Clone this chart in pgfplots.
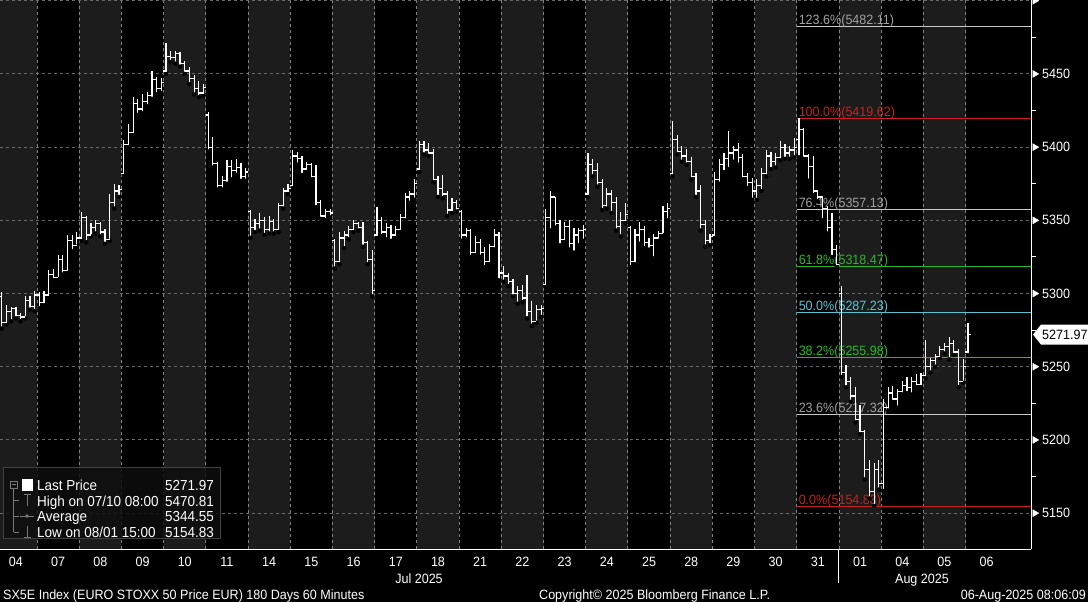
\documentclass[border=0pt]{standalone}
\usepackage{fontspec}
\setmainfont{Liberation Sans}[FakeStretch=0.93]
\usepackage{pgfplots}
\usepackage{pgfplotstable}
\pgfplotsset{compat=1.18}
\definecolor{bandgray}{RGB}{28,28,28}
\definecolor{gridgray}{RGB}{105,105,105}
\definecolor{vgridgray}{RGB}{130,130,130}
\definecolor{fibgray}{RGB}{200,200,200}
\definecolor{fibgraytxt}{RGB}{160,160,160}
\definecolor{fibred}{RGB}{200,32,32}
\definecolor{fibgreen}{RGB}{40,185,40}
\definecolor{fibcyan}{RGB}{90,195,210}
\definecolor{legfill}{RGB}{14,14,14}
\definecolor{legborder}{RGB}{64,64,64}
\definecolor{treegray}{RGB}{120,120,120}
\newcommand\fs{\fontsize{13.5}{15}\selectfont}
\newcommand\fl{\fontsize{14.5}{16}\selectfont}
\pgfdeclareplotmark{openL}{\pgfpathmoveto{\pgfqpoint{-2.6pt}{0pt}}\pgfpathlineto{\pgfqpoint{0pt}{0pt}}\pgfusepathqstroke}
\pgfdeclareplotmark{closeR}{\pgfpathmoveto{\pgfqpoint{0pt}{0pt}}\pgfpathlineto{\pgfqpoint{2.6pt}{0pt}}\pgfusepathqstroke}
\pgfplotstableread{
d s o h l c
0 0 5288 5296 5282 5290
0 1 5298 5301 5276 5280
0 2 5280 5292 5279 5288
0 3 5288 5291 5281 5290
0 4 5290 5291 5283 5285
0 5 5285 5287 5281 5284
0 6 5284 5298 5283 5295
0 7 5295 5298 5289 5291
0 8 5291 5302 5288 5299
1 0 5299 5301 5290 5294
1 1 5294 5302 5292 5299
1 2 5299 5316 5297 5313
1 3 5313 5317 5309 5311
1 4 5311 5326 5310 5323
1 5 5323 5326 5313 5316
1 6 5316 5340 5314 5336
1 7 5336 5340 5329 5333
1 8 5333 5342 5332 5338
2 0 5338 5356 5336 5352
2 1 5352 5353 5335 5340
2 2 5340 5348 5339 5345
2 3 5345 5350 5341 5348
2 4 5348 5349 5339 5342
2 5 5342 5344 5334 5337
2 6 5337 5368 5336 5362
2 7 5362 5375 5358 5370
2 8 5370 5374 5366 5371
3 0 5382 5405 5381 5402
3 1 5402 5416 5400 5410
3 2 5410 5434 5408 5430
3 3 5430 5433 5422 5426
3 4 5426 5436 5423 5431
3 5 5431 5438 5428 5435
3 6 5435 5452 5433 5446
3 7 5446 5448 5436 5440
3 8 5440 5447 5437 5444
4 0 5452 5470.81 5450 5462
4 1 5462 5466 5458 5461
4 2 5461 5466 5457 5464
4 3 5464 5465 5455 5457
4 4 5457 5459 5450 5452
4 5 5452 5455 5443 5447
4 6 5447 5449 5436 5440
4 7 5440 5445 5434 5437
4 8 5437 5443 5435 5441
5 0 5422 5424 5397 5400
5 1 5400 5407 5386 5389
5 2 5389 5390 5371 5374
5 3 5374 5380 5371 5377
5 4 5377 5391 5375 5387
5 5 5387 5391 5378 5384
5 6 5384 5392 5381 5386
5 7 5386 5389 5377 5380
5 8 5380 5386 5377 5383
6 0 5356 5357 5338 5345
6 1 5345 5351 5342 5348
6 2 5348 5355 5343 5350
6 3 5350 5352 5340 5344
6 4 5344 5353 5341 5349
6 5 5349 5351 5341 5344
6 6 5344 5362 5342 5360
6 7 5360 5372 5358 5370
6 8 5370 5375 5368 5372
7 0 5374 5398 5372 5394
7 1 5394 5397 5388 5392
7 2 5392 5394 5381 5385
7 3 5385 5390 5383 5388
7 4 5388 5389 5378 5380
7 5 5380 5388 5359 5362
7 6 5362 5364 5351 5353
7 7 5353 5358 5350 5356
7 8 5356 5358 5352 5355
8 0 5336 5337 5317 5322
8 1 5322 5342 5320 5338
8 2 5338 5343 5331 5340
8 3 5340 5346 5337 5344
8 4 5344 5350 5342 5348
8 5 5348 5349 5343 5345
8 6 5345 5349 5332 5335
8 7 5335 5336 5320 5323
8 8 5323 5330 5298 5302
9 0 5340 5359 5338 5350
9 1 5350 5352 5339 5342
9 2 5342 5348 5337 5345
9 3 5345 5347 5336 5340
9 4 5340 5346 5338 5344
9 5 5344 5354 5342 5352
9 6 5352 5369 5350 5366
9 7 5366 5370 5362 5368
9 8 5368 5378 5364 5375
10 0 5385 5404 5383 5402
10 1 5402 5404 5395 5398
10 2 5398 5403 5394 5396
10 3 5396 5399 5376 5378
10 4 5378 5380 5366 5372
10 5 5372 5381 5365 5368
10 6 5368 5370 5353 5357
10 7 5357 5365 5355 5362
10 8 5362 5364 5356 5358
11 0 5356 5357 5336 5340
11 1 5340 5345 5337 5343
11 2 5343 5344 5325 5328
11 3 5328 5339 5327 5335
11 4 5335 5337 5325 5328
11 5 5328 5332 5318 5322
11 6 5322 5334 5320 5332
11 7 5332 5344 5330 5340
11 8 5340 5342 5309 5314
12 0 5314 5319 5308 5312
12 1 5312 5314 5305 5308
12 2 5308 5310 5298 5300
12 3 5300 5305 5293 5302
12 4 5302 5306 5294 5297
12 5 5297 5313 5283 5288
12 6 5288 5295 5278 5281
12 7 5281 5292 5280 5289
12 8 5289 5292 5284 5290
13 0 5306 5358 5305 5352
13 1 5352 5370 5343 5366
13 2 5366 5366 5345 5348
13 3 5348 5350 5333 5337
13 4 5337 5349 5335 5346
13 5 5346 5350 5330 5334
13 6 5334 5345 5328 5340
13 7 5340 5345 5333 5343
13 8 5343 5347 5336 5344
14 0 5368 5396 5366 5388
14 1 5388 5392 5380 5384
14 2 5384 5389 5373 5376
14 3 5376 5378 5357 5360
14 4 5360 5372 5358 5368
14 5 5368 5371 5355 5362
14 6 5362 5366 5343 5346
14 7 5346 5356 5339 5350
14 8 5350 5362 5348 5354
15 0 5345 5346 5318 5322
15 1 5322 5344 5320 5340
15 2 5340 5349 5334 5344
15 3 5344 5346 5331 5335
15 4 5335 5338 5330 5333
15 5 5333 5341 5324 5338
15 6 5338 5343 5336 5341
15 7 5341 5360 5340 5356
15 8 5356 5362 5350 5358
16 0 5382 5418 5380 5405
16 1 5405 5408 5395 5397
16 2 5397 5401 5390 5394
16 3 5394 5399 5388 5390
16 4 5390 5393 5378 5380
16 5 5380 5382 5366 5370
16 6 5370 5374 5343 5347
16 7 5347 5350 5332 5336
16 8 5336 5341 5333 5339
17 0 5340 5383 5338 5378
17 1 5378 5392 5375 5388
17 2 5388 5396 5383 5392
17 3 5392 5411 5385 5396
17 4 5396 5401 5390 5398
17 5 5398 5403 5388 5393
17 6 5393 5395 5378 5380
17 7 5380 5382 5372 5376
17 8 5376 5379 5364 5370
18 0 5370 5378 5364 5374
18 1 5374 5386 5370 5382
18 2 5382 5398 5380 5394
18 3 5394 5397 5385 5390
18 4 5390 5396 5386 5393
18 5 5393 5404 5391 5400
18 6 5400 5402 5392 5396
18 7 5396 5401 5392 5398
18 8 5398 5406 5393 5400
19 0 5405 5419.62 5393 5412
19 1 5412 5413 5392 5394
19 2 5394 5395 5377 5387
19 3 5387 5394 5367 5370
19 4 5370 5371 5363 5366
19 5 5366 5366 5350 5358
19 6 5358 5360 5341 5345
19 7 5345 5355 5325 5330
19 8 5330 5333 5318 5320
20 0 5300 5305 5243 5246
20 1 5246 5251 5236 5240
20 2 5240 5243 5226 5230
20 3 5230 5236 5212 5214
20 4 5214 5224 5204 5206
20 5 5206 5207 5173 5180
20 6 5180 5186 5160 5165
20 7 5165 5184 5154.83 5180
20 8 5180 5186 5166 5170
21 0 5170 5228 5165 5222
21 1 5222 5236 5220 5232
21 2 5232 5237 5226 5228
21 3 5228 5235 5222 5233
21 4 5233 5240 5231 5237
21 5 5237 5243 5232 5236
21 6 5236 5243 5231 5240
21 7 5240 5245 5236 5238
21 8 5238 5246 5236 5244
22 0 5244 5268 5242 5250
22 1 5250 5256 5246 5254
22 2 5254 5259 5250 5257
22 3 5257 5264 5256 5262
22 4 5262 5266 5259 5264
22 5 5264 5270 5255 5266
22 6 5266 5268 5258 5260
22 7 5260 5262 5236 5240
22 8 5240 5255 5239 5250
23 0 5260 5280 5258 5271.97
}\ohlc
\begin{document}
\begin{tikzpicture}
\path[use as bounding box] (0pt,0pt) rectangle (1088pt,-602pt);
\fill[black] (0pt,0pt) rectangle (1088pt,-602pt);
\begin{axis}[
  at={(0pt,0pt)}, anchor=north west,
  scale only axis, width=1031pt, height=549pt,
  xmin=-0.377, xmax=24.05, ymin=5125.5, ymax=5500.5,
  clip=false,
  axis x line*=bottom, axis y line*=right,
  axis line style={white, line width=1pt, -},
  xtick={0,...,23},
  xticklabels={04,07,08,09,10,11,14,15,16,17,18,21,22,23,24,25,28,29,30,31,01,04,05,06},
  x tick style={draw=none},
  xticklabel style={text=white, font=\fs, anchor=base, inner sep=0pt, yshift=-17pt},
  ytick={5150,5200,5250,5300,5350,5400,5450},
  yticklabels={5150,5200,5250,5300,5350,5400,5450},
  minor ytick={5175,5225,5275,5325,5375,5425,5475},
  tick align=outside,
  major tick length=0pt, minor tick length=5pt,
  y tick style={white, line width=1pt},
  yticklabel style={text=white, font=\fs, anchor=west, inner sep=0pt, xshift=11pt},
]
% day bands
\fill[bandgray] (axis cs:-0.377,5125.5) rectangle (axis cs:0.5,5500.5);
\fill[bandgray] (axis cs:1.5,5125.5) rectangle (axis cs:2.5,5500.5);
\fill[bandgray] (axis cs:3.5,5125.5) rectangle (axis cs:4.5,5500.5);
\fill[bandgray] (axis cs:5.5,5125.5) rectangle (axis cs:6.5,5500.5);
\fill[bandgray] (axis cs:7.5,5125.5) rectangle (axis cs:8.5,5500.5);
\fill[bandgray] (axis cs:9.5,5125.5) rectangle (axis cs:10.5,5500.5);
\fill[bandgray] (axis cs:11.5,5125.5) rectangle (axis cs:12.5,5500.5);
\fill[bandgray] (axis cs:13.5,5125.5) rectangle (axis cs:14.5,5500.5);
\fill[bandgray] (axis cs:15.5,5125.5) rectangle (axis cs:16.5,5500.5);
\fill[bandgray] (axis cs:17.5,5125.5) rectangle (axis cs:18.5,5500.5);
\fill[bandgray] (axis cs:19.5,5125.5) rectangle (axis cs:20.5,5500.5);
\fill[bandgray] (axis cs:21.5,5125.5) rectangle (axis cs:22.5,5500.5);
% grid
\pgfplotsinvokeforeach{0.5,1.5,...,22.5}{
  \draw[vgridgray, line width=0.9pt, dash pattern=on 3pt off 3pt] (axis cs:#1,5125.5) -- (axis cs:#1,5500.5);
}
\pgfplotsinvokeforeach{5150,5200,5250,5300,5350,5400,5450,5500}{
  \draw[gridgray, line width=0.9pt, dash pattern=on 3pt off 3pt] (axis cs:-0.377,#1) -- (axis cs:24.05,#1);
}
% fibonacci levels
\addplot[fibgray, line width=1pt] coordinates {(18.5,5482.11) (24.05,5482.11)}
  node[pos=0, anchor=base west, text=fibgraytxt, font=\fs, inner sep=0pt, xshift=1.5pt, yshift=2pt] {123.6\%(5482.11)};
\addplot[fibred, line width=1pt] coordinates {(18.5,5419.62) (24.05,5419.62)}
  node[pos=0, anchor=base west, text=fibred, font=\fs, inner sep=0pt, xshift=1.5pt, yshift=2pt] {100.0\%(5419.62)};
\addplot[fibgray, line width=1pt] coordinates {(18.5,5357.13) (24.05,5357.13)}
  node[pos=0, anchor=base west, text=fibgraytxt, font=\fs, inner sep=0pt, xshift=1.5pt, yshift=2pt] {76.4\%(5357.13)};
\addplot[fibgreen, line width=1pt] coordinates {(18.5,5318.47) (24.05,5318.47)}
  node[pos=0, anchor=base west, text=fibgreen, font=\fs, inner sep=0pt, xshift=1.5pt, yshift=2pt] {61.8\%(5318.47)};
\addplot[fibcyan, line width=1pt] coordinates {(18.5,5287.23) (24.05,5287.23)}
  node[pos=0, anchor=base west, text=fibcyan, font=\fs, inner sep=0pt, xshift=1.5pt, yshift=2pt] {50.0\%(5287.23)};
\addplot[fibgreen, line width=1pt] coordinates {(18.5,5255.98) (24.05,5255.98)}
  node[pos=0, anchor=base west, text=fibgreen, font=\fs, inner sep=0pt, xshift=1.5pt, yshift=2pt] {38.2\%(5255.98)};
\addplot[fibgray, line width=1pt] coordinates {(18.5,5217.32) (24.05,5217.32)}
  node[pos=0, anchor=base west, text=fibgraytxt, font=\fs, inner sep=0pt, xshift=1.5pt, yshift=2pt] {23.6\%(5217.32)};
\addplot[fibred, line width=1pt] coordinates {(18.5,5154.83) (24.05,5154.83)}
  node[pos=0, anchor=base west, text=fibred, font=\fs, inner sep=0pt, xshift=1.5pt, yshift=2pt] {0.0\%(5154.83)};
% OHLC bars
\addplot[only marks, mark=none,
  error bars/.cd, y dir=plus, y explicit, error mark=none,
  error bar style={draw=white, line width=1.2pt}]
  table[x expr={\thisrow{d}-0.5+(\thisrow{s}+0.5)/9}, y=l, y error expr={\thisrow{h}-\thisrow{l}}] {\ohlc};
\addplot[only marks, mark=openL, mark options={draw=white, line width=1.2pt}]
  table[x expr={\thisrow{d}-0.5+(\thisrow{s}+0.5)/9}, y=o] {\ohlc};
\addplot[only marks, mark=closeR, mark options={draw=white, line width=1.2pt}]
  table[x expr={\thisrow{d}-0.5+(\thisrow{s}+0.5)/9}, y=c] {\ohlc};
% tick triangles
\addplot[only marks, mark=triangle*, mark size=4pt, mark options={rotate=-90, fill=white, draw=white}]
  coordinates {(24.14,5150) (24.14,5200) (24.14,5250) (24.14,5300) (24.14,5350) (24.14,5400) (24.14,5450) (24.14,5500)};
% last price tag
\fill[white, shift={(axis cs:24.05,5271.97)}] (2pt,0pt) -- (10pt,10pt) -- (58pt,10pt) -- (58pt,-10pt) -- (10pt,-10pt) -- cycle;
\node[text=black, font=\fs, anchor=west, inner sep=0pt, shift={(axis cs:24.05,5271.97)}] at (11pt,0pt) {5271.97};
\end{axis}
% month separator and labels
\draw[white, line width=1pt] (838.9pt,-549pt) -- (838.9pt,-583pt);
\node[text=white, font=\fs, anchor=base, inner sep=0pt] at (419pt,-583pt) {Jul 2025};
\node[text=white, font=\fs, anchor=base, inner sep=0pt] at (922pt,-583pt) {Aug 2025};
% footer
\node[text=white, font=\fs, anchor=base west, inner sep=0pt] at (3pt,-599pt) {SX5E Index (EURO STOXX 50 Price EUR) 180 Days 60 Minutes};
\node[text=white, font=\fs, anchor=base west, inner sep=0pt] at (539pt,-599pt) {Copyright© 2025 Bloomberg Finance L.P.};
\node[text=white, font=\fs, anchor=base east, inner sep=0pt] at (1086pt,-599pt) {06-Aug-2025 08:06:09};
% legend
\draw[draw=legborder, fill=legfill, fill opacity=0.85, line width=1pt] (3pt,-467pt) rectangle (220pt,-538pt);
\draw[treegray, line width=0.8pt] (10pt,-481pt) rectangle (17pt,-488pt);
\draw[treegray, line width=0.8pt] (11.5pt,-484.5pt) -- (15.5pt,-484.5pt);
\draw[treegray, line width=0.8pt] (13.5pt,-488pt) -- (13.5pt,-532pt);
\draw[treegray, line width=0.8pt] (13.5pt,-500pt) -- (19pt,-500pt);
\draw[treegray, line width=0.8pt] (13.5pt,-516pt) -- (19pt,-516pt);
\draw[treegray, line width=0.8pt] (13.5pt,-532pt) -- (19pt,-532pt);
\fill[white] (22pt,-479pt) rectangle (33pt,-491pt);
\draw[treegray, line width=1pt] (24pt,-494pt) -- (31pt,-494pt) (27.5pt,-494pt) -- (27.5pt,-506pt);
\draw[treegray, line width=1pt] (20pt,-516pt) -- (34pt,-516pt);
\fill[treegray] (27pt,-516pt) circle (1.8pt);
\draw[treegray, line width=1pt] (24pt,-537pt) -- (31pt,-537pt) (27.5pt,-537pt) -- (27.5pt,-526pt);
\node[text=white, font=\fl, anchor=base west, inner sep=0pt] at (37pt,-490.5pt) {Last Price};
\node[text=white, font=\fl, anchor=base west, inner sep=0pt] at (37pt,-506pt) {High on 07/10 08:00};
\node[text=white, font=\fl, anchor=base west, inner sep=0pt] at (37pt,-521.5pt) {Average};
\node[text=white, font=\fl, anchor=base west, inner sep=0pt] at (37pt,-537pt) {Low on 08/01 15:00};
\node[text=white, font=\fl, anchor=base east, inner sep=0pt] at (214pt,-490.5pt) {5271.97};
\node[text=white, font=\fl, anchor=base east, inner sep=0pt] at (214pt,-506pt) {5470.81};
\node[text=white, font=\fl, anchor=base east, inner sep=0pt] at (214pt,-521.5pt) {5344.55};
\node[text=white, font=\fl, anchor=base east, inner sep=0pt] at (214pt,-537pt) {5154.83};
\end{tikzpicture}
\end{document}
